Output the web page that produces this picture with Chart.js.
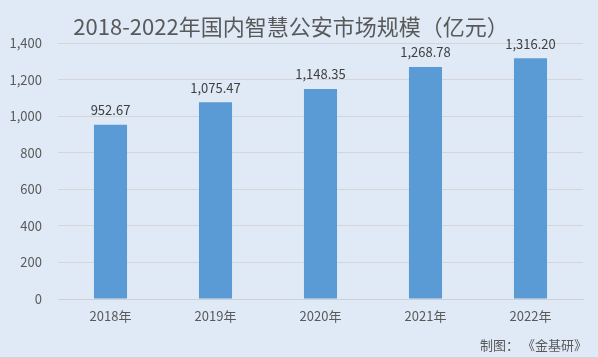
<!DOCTYPE html>
<html><head><meta charset="utf-8">
<script src="https://cdn.jsdelivr.net/npm/chart.js@4/dist/chart.umd.min.js"></script>
<style>
html,body{margin:0;padding:0;background:#dfeaf6;}
#wrap{position:relative;width:598px;height:358px;}
canvas{display:block;}
</style></head>
<body><div id="wrap"><canvas id="c" width="598" height="358"></canvas></div>
<script>
const categories = ["2018年","2019年","2020年","2021年","2022年"];
const values = [952.67, 1075.47, 1148.35, 1268.78, 1316.20];
const valueLabels = ["952.67","1,075.47","1,148.35","1,268.78","1,316.20"];
const titleText = "2018-2022年国内智慧公安市场规模（亿元）";
const sourceText = "制图： 《金基研》";
const FONT = "'Noto Sans CJK SC','Noto Sans',sans-serif";

const bgPlugin = {
  id:'bg',
  beforeDraw(chart){
    const ctx = chart.ctx;
    ctx.save();
    ctx.fillStyle = '#dfeaf6';
    ctx.fillRect(0,0,chart.width,chart.height);
    ctx.strokeStyle = '#d0d4d9';
    ctx.lineWidth = 1;
    ctx.beginPath();
    ctx.moveTo(0,357.5); ctx.lineTo(chart.width,357.5);
    ctx.stroke();
    ctx.restore();
  }
};
const textPlugin = {
  id:'texts',
  afterDatasetsDraw(chart){
    const ctx = chart.ctx;
    ctx.save();
    ctx.fillStyle = '#595959';
    ctx.font = "22px " + FONT;
    ctx.textAlign = 'center';
    ctx.textBaseline = 'middle';
    ctx.fillText(titleText, 291, 27);
    ctx.font = "13px " + FONT;
    ctx.textAlign = 'right';
    ctx.fillText(sourceText, 587, 345);
    const meta = chart.getDatasetMeta(0);
    ctx.fillStyle = '#404040';
    ctx.textAlign = 'center';
    ctx.textBaseline = 'bottom';
    meta.data.forEach((bar,i)=>{
      ctx.fillText(valueLabels[i], bar.x, bar.y - 8);
    });
    ctx.restore();
  }
};

new Chart(document.getElementById('c'), {
  type:'bar',
  data:{labels:categories, datasets:[{data:values, backgroundColor:'#5b9bd5', categoryPercentage:1, barPercentage:0.315}]},
  options:{
    responsive:false, animation:false,
    layout:{padding:{top:43,right:15,bottom:0,left:0}},
    plugins:{legend:{display:false}, tooltip:{enabled:false}},
    scales:{
      x:{
        grid:{display:false, drawTicks:false},
        border:{color:'#d0d0d0'},
        ticks:{color:'#595959', font:{size:13, family:FONT}, padding:9},
        afterFit(s){ s.height = 59; }
      },
      y:{
        min:0, max:1400,
        grid:{color:'#d5d5d5', drawTicks:false},
        border:{display:false},
        ticks:{stepSize:200, color:'#595959', font:{size:13, family:FONT}, padding:16,
          callback:v=>v.toLocaleString('en-US')},
        afterFit(s){ s.width = 58; }
      }
    }
  },
  plugins:[bgPlugin, textPlugin]
});
</script></body></html>
